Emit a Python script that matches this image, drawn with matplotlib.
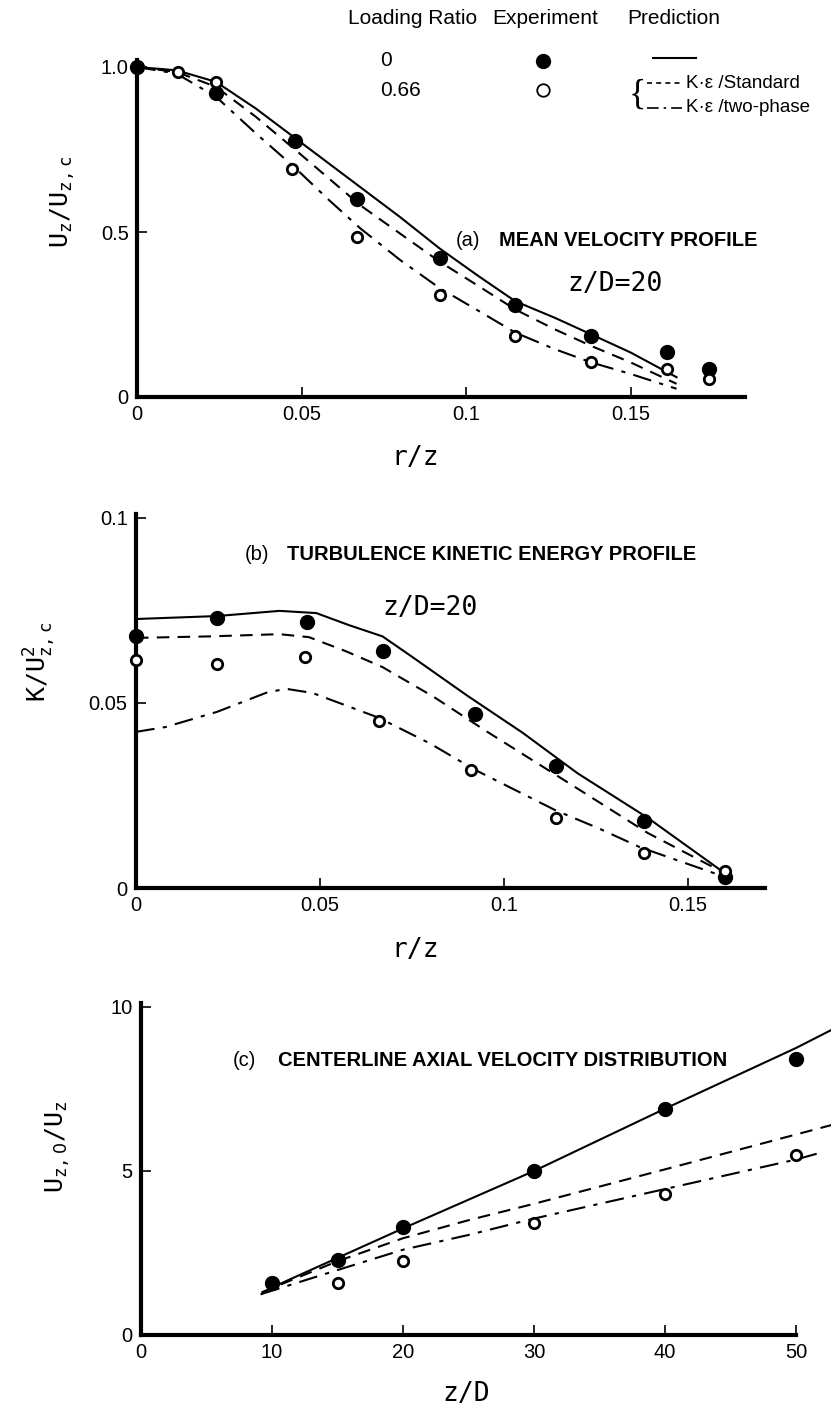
import numpy as np
import matplotlib
matplotlib.use('Agg')
import matplotlib.pyplot as plt

W, H = 831, 1407

# (a) mean velocity profile, z/D = 20
a_r_fill = [0, 0.024, 0.048, 0.067, 0.092, 0.115, 0.138, 0.161, 0.174]
a_u_fill = [1.0, 0.92, 0.775, 0.60, 0.42, 0.28, 0.185, 0.135, 0.085]
a_r_open = [0.0125, 0.024, 0.047, 0.067, 0.092, 0.115, 0.138, 0.161, 0.174]
a_u_open = [0.985, 0.955, 0.69, 0.485, 0.31, 0.185, 0.105, 0.085, 0.055]
a_r_line = [0, 0.012, 0.024, 0.036, 0.048, 0.058, 0.068, 0.08, 0.092, 0.104, 0.115, 0.127, 0.138, 0.15, 0.164]
a_u_solid = [1.0, 0.99, 0.955, 0.875, 0.785, 0.71, 0.635, 0.545, 0.45, 0.365, 0.29, 0.24, 0.19, 0.135, 0.06]
a_u_dash = [1.0, 0.985, 0.94, 0.85, 0.75, 0.665, 0.58, 0.495, 0.41, 0.335, 0.265, 0.205, 0.155, 0.105, 0.04]
a_u_dashdot = [1.0, 0.98, 0.91, 0.80, 0.695, 0.60, 0.51, 0.415, 0.33, 0.26, 0.195, 0.145, 0.105, 0.07, 0.025]

# (b) turbulence kinetic energy profile
b_r_fill = [0, 0.022, 0.0465, 0.067, 0.092, 0.114, 0.138, 0.16]
b_k_fill = [0.068, 0.073, 0.072, 0.064, 0.047, 0.033, 0.018, 0.003]
b_r_open = [0, 0.022, 0.046, 0.066, 0.091, 0.114, 0.138, 0.16]
b_k_open = [0.0615, 0.0605, 0.0625, 0.045, 0.032, 0.019, 0.0095, 0.0045]
b_r_solid = [0, 0.022, 0.039, 0.049, 0.058, 0.067, 0.075, 0.09, 0.105, 0.12, 0.139, 0.16]
b_k_solid = [0.0727, 0.0735, 0.0749, 0.0743, 0.071, 0.068, 0.0625, 0.052, 0.042, 0.031, 0.019, 0.004]
b_r_dash = [0, 0.02, 0.039, 0.047, 0.057, 0.067, 0.081, 0.095, 0.115, 0.139, 0.16]
b_k_dash = [0.0676, 0.068, 0.0686, 0.0678, 0.064, 0.0597, 0.0516, 0.0425, 0.030, 0.0149, 0.004]
b_r_dashdot = [0, 0.008, 0.022, 0.036, 0.041, 0.048, 0.066, 0.08, 0.092, 0.102, 0.114, 0.126, 0.137, 0.16]
b_k_dashdot = [0.0422, 0.0435, 0.0476, 0.053, 0.0538, 0.0527, 0.046, 0.039, 0.032, 0.027, 0.021, 0.016, 0.011, 0.003]

# (c) centerline axial velocity
c_z_fill = [10, 15, 20, 30, 40, 50]
c_u_fill = [1.6, 2.3, 3.3, 5.0, 6.9, 8.4]
c_z_open = [15, 20, 30, 40, 50]
c_u_open = [1.6, 2.25, 3.4, 4.3, 5.5]
c_z_solid = [9.2, 10, 15, 20, 30, 40, 50, 52.7]
c_u_solid = [1.25, 1.45, 2.35, 3.25, 5.0, 6.9, 8.75, 9.3]
c_z_dash = [9.2, 15, 20, 25, 30, 40, 52.7]
c_u_dash = [1.3, 2.25, 2.95, 3.5, 4.0, 5.05, 6.4]
c_z_dashdot = [9.2, 15, 20, 25, 30, 40, 50, 51.8]
c_u_dashdot = [1.25, 1.98, 2.6, 3.05, 3.55, 4.45, 5.35, 5.55]

MONO = 'DejaVu Sans Mono'
SANS = 'Liberation Sans'
DASH = (0, (6, 4))
DASHDOT = (0, (9, 4, 2, 4))


def px_axes(fig, left, right, bottom, top):
    a = fig.add_axes([left / W, 1 - bottom / H, (right - left) / W, (bottom - top) / H])
    a.patch.set_visible(False)
    return a


def style(ax):
    for s in ['top', 'right']:
        ax.spines[s].set_visible(False)
    for s in ['left', 'bottom']:
        ax.spines[s].set_linewidth(3)
    ax.tick_params(direction='in', length=7, width=1.2, labelsize=14.5, pad=6)
    for lab in ax.get_xticklabels() + ax.get_yticklabels():
        lab.set_family(SANS)


def draw(ax, x, y, ls):
    ax.plot(x, y, color='black', lw=1.5, ls=ls, clip_on=False)


def points(ax, xf, yf, xo, yo):
    ax.plot(xf, yf, 'o', color='black', ms=10, clip_on=False, zorder=5)
    ax.plot(xo, yo, 'o', mfc='white', mec='black', mew=2, ms=7.5, clip_on=False, zorder=5)


fig = plt.figure(figsize=(W / 100, H / 100), dpi=100)

# ---- panel (a)
ax = px_axes(fig, 137, 745, 397, 60)
ax.set_xlim(0, 608 / 3290)
ax.set_ylim(0, 337 / 330)
ax.set_xticks([0, 0.05, 0.1, 0.15], ['0', '0.05', '0.1', '0.15'])
ax.set_yticks([0, 0.5, 1.0], ['0', '0.5', '1.0'])
style(ax)
draw(ax, a_r_line, a_u_solid, '-')
draw(ax, a_r_line, a_u_dash, DASH)
draw(ax, a_r_line, a_u_dashdot, DASHDOT)
points(ax, a_r_fill, a_u_fill, a_r_open, a_u_open)

# ---- panel (b)
ax = px_axes(fig, 136, 765, 888, 514)
ax.set_xlim(0, 629 / 3680)
ax.set_ylim(0, 374 / 3700)
ax.set_xticks([0, 0.05, 0.1, 0.15], ['0', '0.05', '0.1', '0.15'])
ax.set_yticks([0, 0.05, 0.1], ['0', '0.05', '0.1'])
style(ax)
draw(ax, b_r_solid, b_k_solid, '-')
draw(ax, b_r_dash, b_k_dash, DASH)
draw(ax, b_r_dashdot, b_k_dashdot, DASHDOT)
points(ax, b_r_fill, b_k_fill, b_r_open, b_k_open)

# ---- panel (c)
ax = px_axes(fig, 141, 831, 1335, 1003)
ax.set_xlim(0, 690 / 13.1)
ax.set_ylim(0, 332 / 32.8)
ax.spines['bottom'].set_bounds(0, 50)
ax.set_xticks([0, 10, 20, 30, 40, 50])
ax.set_yticks([0, 5, 10])
style(ax)
draw(ax, c_z_solid, c_u_solid, '-')
draw(ax, c_z_dash, c_u_dash, DASH)
draw(ax, c_z_dashdot, c_u_dashdot, DASHDOT)
points(ax, c_z_fill, c_u_fill, c_z_open, c_u_open)

# overlay in pixel units for the free text and the legend table
ov = fig.add_axes([0, 0, 1, 1], zorder=10)
ov.set_xlim(0, W)
ov.set_ylim(H, 0)
ov.axis('off')

# ---- axis labels
lab = dict(family=MONO, fontsize=18, ha='center', va='center')
ov.text(63, 202, r'$\mathregular{U_z/U_{z,c}}$', rotation=90, **lab)
ov.text(40, 662, r'$\mathregular{K/U_{z,c}^2}$', rotation=90, **lab)
ov.text(58, 1147, r'$\mathregular{U_{z,\mathsf{0}}/U_z}$', rotation=90, **lab)
lab['fontsize'] = 19
ov.text(415, 458, 'r/z', **lab)
ov.text(415, 950, 'r/z', **lab)
ov.text(466, 1394, 'z/D', **lab)
ov.text(615, 284, 'z/D=20', **lab)
ov.text(430, 608, 'z/D=20', **lab)

# ---- panel titles
tt = dict(family=SANS, fontsize=14.5, va='center', ha='left')
ov.text(456, 241, '(a)', **tt)
ov.text(499, 241, 'MEAN VELOCITY PROFILE', fontweight='bold', **tt)
ov.text(245, 555, '(b)', **tt)
ov.text(287, 555, 'TURBULENCE KINETIC ENERGY PROFILE', fontweight='bold', **tt)
ov.text(233, 1060, '(c)', **tt)
ov.text(278, 1060, 'CENTERLINE AXIAL VELOCITY DISTRIBUTION', fontweight='bold', **tt)

# ---- legend table
lg = dict(family=SANS, fontsize=15, va='center', ha='left')
ov.text(477, 18, 'Loading Ratio', family=SANS, fontsize=15, va='center', ha='right')
ov.text(492, 18, 'Experiment', **lg)
ov.text(627, 18, 'Prediction', **lg)
ov.text(380, 61, '0', **lg)
ov.text(380, 90, '0.66', **lg)
ov.plot([543], [61], 'o', color='black', ms=10)
ov.plot([543], [90], 'o', mfc='white', mec='black', mew=1.3, ms=9)
ov.plot([653, 696], [58, 58], color='black', lw=1.5)
ov.text(637, 95, '{', family='Liberation Serif', fontsize=26, ha='center', va='center')
ov.plot([647, 682], [83, 83], color='black', lw=1.2, ls=(0, (3, 2.5)))
ov.plot([647, 682], [108, 108], color='black', lw=1.2, ls=(0, (7, 3, 1.5, 3)))
sm = dict(family=SANS, fontsize=13.5, va='center', ha='left')
ov.text(686, 83, 'K·ε /Standard', **sm)
ov.text(686, 108, 'K·ε /two-phase', **sm)

fig.savefig('out.png', dpi=100)
